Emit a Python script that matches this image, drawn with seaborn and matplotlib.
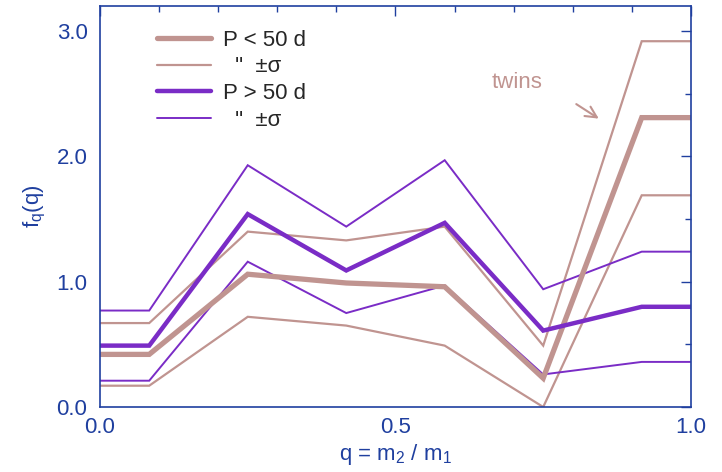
import matplotlib
matplotlib.use("Agg")
import matplotlib.pyplot as plt
import seaborn as sns
import pandas as pd
from matplotlib.ticker import MultipleLocator, FormatStrFormatter
from matplotlib.lines import Line2D

q = [0.0, 0.0833, 0.25, 0.4167, 0.5833, 0.75, 0.9167, 1.0]
short_mean = [0.42, 0.42, 1.06, 0.99, 0.96, 0.23, 2.31, 2.31]
short_hi = [0.67, 0.67, 1.40, 1.33, 1.44, 0.49, 2.92, 2.92]
short_lo = [0.17, 0.17, 0.72, 0.65, 0.49, 0.0, 1.69, 1.69]
long_mean = [0.49, 0.49, 1.54, 1.09, 1.47, 0.61, 0.80, 0.80]
long_hi = [0.77, 0.77, 1.93, 1.44, 1.97, 0.94, 1.24, 1.24]
long_lo = [0.21, 0.21, 1.16, 0.75, 0.97, 0.26, 0.36, 0.36]

sns.set_style("white")
plt.rcParams['font.family'] = ['Liberation Sans', 'DejaVu Sans']
plt.rcParams['mathtext.default'] = 'regular'

BLUE = "#1f3f9f"
BROWN = "#c09490"
PURPLE = "#7a2cc6"
FS = 16

fig = plt.figure(figsize=(7.22, 4.72), dpi=100)
ax = fig.add_axes([0.1385, 0.1377, 0.957 - 0.1385, 0.987 - 0.1377])

df = pd.DataFrame({"q": q})
series = [
    ("sh_hi", short_hi, BROWN, 1.6),
    ("sh_lo", short_lo, BROWN, 1.6),
    ("lo_hi", long_hi, PURPLE, 1.4),
    ("lo_lo", long_lo, PURPLE, 1.4),
    ("sh_m", short_mean, BROWN, 3.8),
    ("lo_m", long_mean, PURPLE, 3.2),
]
for name, vals, col, lw in series:
    df[name] = vals
    sns.lineplot(data=df, x="q", y=name, color=col, linewidth=lw, ax=ax,
                 solid_joinstyle="miter", solid_capstyle="butt")

ax.set_xlim(0, 1.0)
ax.set_ylim(0, 3.2)
ax.xaxis.set_major_locator(MultipleLocator(0.5))
ax.xaxis.set_minor_locator(MultipleLocator(0.1))
ax.yaxis.set_major_locator(MultipleLocator(1.0))
ax.yaxis.set_minor_locator(MultipleLocator(0.5))
ax.xaxis.set_major_formatter(FormatStrFormatter("%.1f"))
ax.yaxis.set_major_formatter(FormatStrFormatter("%.1f"))
ax.tick_params(which="both", direction="in", top=True, right=True,
               color=BLUE, labelcolor=BLUE, labelsize=FS, width=1)
ax.tick_params(which="major", length=7, pad=7)
ax.tick_params(axis="y", which="major", pad=9)
ax.tick_params(which="minor", length=4)
for s in ax.spines.values():
    s.set_color(BLUE)
    s.set_linewidth(1.2)

ax.set_xlabel("q = m$_2$ / m$_1$", color=BLUE, fontsize=FS, labelpad=3)
ax.set_ylabel("f$_q$(q)", color=BLUE, fontsize=FS, labelpad=6)

handles = [
    Line2D([], [], color=BROWN, lw=3.8),
    Line2D([], [], color=BROWN, lw=1.6),
    Line2D([], [], color=PURPLE, lw=3.2),
    Line2D([], [], color=PURPLE, lw=1.4),
]
labels = ["P < 50 d", "  \"  \u00b1\u03c3", "P > 50 d", "  \"  \u00b1\u03c3"]
ax.legend(handles, labels, loc="upper left", bbox_to_anchor=(0.066, 0.985),
          frameon=False, fontsize=FS, handlelength=2.45, labelspacing=0.25,
          handletextpad=0.55, borderpad=0.3)

ax.text(0.662, 2.55, "twins", color=BROWN, fontsize=FS)
ax.annotate("", xy=(0.848, 2.29), xytext=(0.802, 2.43),
            arrowprops=dict(arrowstyle="->", color=BROWN, lw=1.5,
                            mutation_scale=20))

fig.savefig("out.png", dpi=100)
